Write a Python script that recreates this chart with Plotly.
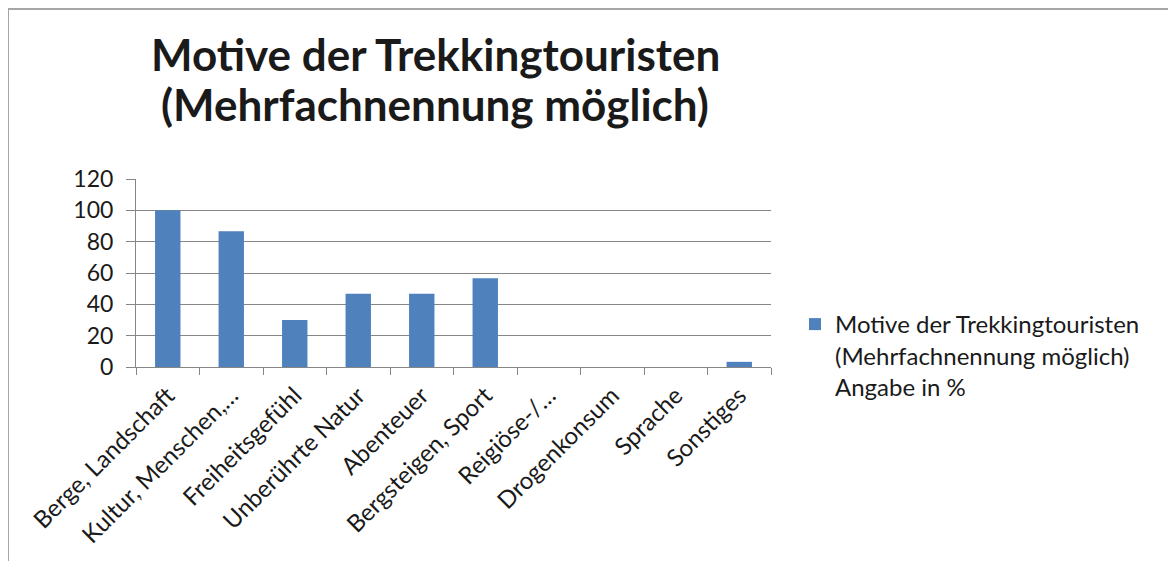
import plotly.graph_objects as go

categories = ["Berge, Landschaft", "Kultur, Menschen,…", "Freiheitsgefühl", "Unberührte Natur",
              "Abenteuer", "Bergsteigen, Sport", "Reigiöse-/…", "Drogenkonsum", "Sprache", "Sonstiges"]
values = [100, 86.7, 30, 46.7, 46.7, 56.7, 0, 0, 0, 3.3]
series_name = "Motive der Trekkingtouristen<br>(Mehrfachnennung möglich)<br>Angabe in %"
y_ticks = [0, 20, 40, 60, 80, 100, 120]
title_lines = ["Motive der Trekkingtouristen", "(Mehrfachnennung möglich)"]

OFF = 8  # page body margin
W, H = 1176 - OFF, 561 - OFF
L, R, T, B = 136 - OFF, 771 - OFF, 179 - OFF, 367 - OFF
pw, ph = R - L, B - T

def px_x(px):
    return (px - OFF - L) / pw

def px_y(py):
    return (B - (py - OFF)) / ph

FONT = "Lato"
grid = "#868686"
txt = "#1a1a1a"

fig = go.Figure()
fig.add_trace(go.Bar(x=categories, y=values, name=series_name,
                     marker=dict(color="#4F81BD", line=dict(width=0)),
                     width=0.4, showlegend=True))

fig.update_layout(
    width=W, height=H,
    margin=dict(l=L, r=W - R, t=T, b=H - B),
    paper_bgcolor="white", plot_bgcolor="white",
    font=dict(family=FONT, size=23, color=txt),
    showlegend=True,
    legend=dict(x=px_x(795), y=px_y(302), xanchor="left", yanchor="top",
                font=dict(family=FONT, size=24, color=txt),
                valign="top", bgcolor="rgba(0,0,0,0)", itemwidth=30),
    xaxis=dict(type="category", showgrid=False, showline=True, linecolor=grid, linewidth=1,
               ticks="outside", tickson="boundaries", ticklen=7, tickcolor=grid,
               tickangle=-45, tickfont=dict(family=FONT, size=24, color=txt),
               ticklabelstandoff=4, range=[-0.5, 9.5]),
    yaxis=dict(range=[0, 120], tickvals=y_ticks, showgrid=True, gridcolor=grid, gridwidth=1,
               showline=True, linecolor=grid, linewidth=1, ticks="outside", ticklen=9,
               tickcolor=grid, tickfont=dict(family=FONT, size=23, color=txt),
               ticklabelstandoff=8, zeroline=False),
)

fig.add_annotation(text="<b>" + title_lines[0] + "</b>", xref="paper", yref="paper",
                   x=px_x(435), y=px_y(54), xanchor="center", yanchor="middle",
                   showarrow=False, font=dict(family=FONT, size=44, color=txt))
fig.add_annotation(text="<b>" + title_lines[1] + "</b>", xref="paper", yref="paper",
                   x=px_x(435), y=px_y(104), xanchor="center", yanchor="middle",
                   showarrow=False, font=dict(family=FONT, size=44, color=txt))

fig.add_shape(type="line", xref="paper", yref="paper",
              x0=px_x(8), x1=px_x(8), y0=px_y(600), y1=px_y(9),
              line=dict(color="#A6A6A6", width=2))
fig.add_shape(type="line", xref="paper", yref="paper",
              x0=px_x(8), x1=px_x(1200), y0=px_y(9), y1=px_y(9),
              line=dict(color="#A6A6A6", width=2))

fig.write_html("out.html")
